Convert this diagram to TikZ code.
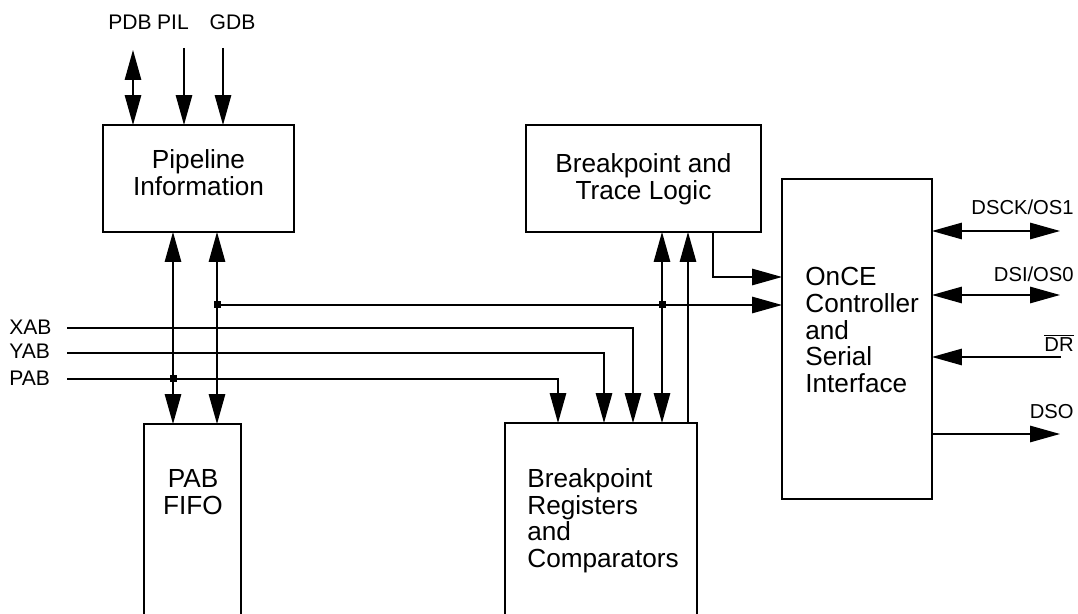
\documentclass[tikz,border=0pt]{standalone}
\usepackage{fontspec}
\setmainfont{Liberation Sans}
\usetikzlibrary{arrows.meta}
\tikzset{
  ln/.style={line width=0.75pt},
  tip/.style={ln,-{Triangle[length=0.6cm,width=0.33cm]}},
  dbl/.style={ln,{Triangle[length=0.6cm,width=0.33cm]}-{Triangle[length=0.6cm,width=0.33cm]}},
  blk/.style={draw,line width=0.75pt,rectangle,outer sep=0pt,inner sep=0pt},
  big/.style={font=\fontsize{14.9}{15.2}\selectfont,inner sep=0pt},
  sml/.style={font=\fontsize{12}{14}\selectfont,inner sep=0pt},
  smr/.style={font=\fontsize{11.5}{14}\selectfont,inner sep=0pt},
  jdot/.style={fill,rectangle,minimum size=0.14cm,inner sep=0pt},
}
\begin{document}
\begin{tikzpicture}[x=0.02cm,y=-0.02cm]
\useasboundingbox (0,0) rectangle (1078,614);
\begin{scope}
\clip (0,0) rectangle (1078,614);
% blocks
\node[blk,minimum width=3.82cm,minimum height=2.14cm] (pipe) at (198.5,178.5) {};
\node[blk,minimum width=4.7cm,minimum height=2.14cm] (trace) at (643.5,178.5) {};
\node[blk,minimum width=3cm,minimum height=6.4cm] (once) at (857,339) {};
\node[blk,minimum width=1.94cm,minimum height=4.72cm] (fifo) at (192.5,542) {};
\node[blk,minimum width=3.84cm,minimum height=4.74cm] (regs) at (601,541.5) {};
% block texts
\node[big,align=center,anchor=north] (tPipe) at (198.5,149) {Pipeline\\Information};
\node[big,align=center,anchor=north] (tTrace) at (643.5,153) {Breakpoint and\\Trace Logic};
\node[big,align=left,anchor=north west] (tOnce) at (805,267) {OnCE\\Controller\\and\\Serial\\Interface};
\node[big,align=left,anchor=north west] (tRegs) at (527,468) {Breakpoint\\Registers\\and\\Comparators};
\node[big,align=center,anchor=north] (tFifo) at (193,469) {PAB\\FIFO};
% helper coordinates
\coordinate (cPDB) at (133,50);
\coordinate (cPIL) at (184,48);
\coordinate (cGDB) at (223,48);
\coordinate (cA) at (173,0);
\coordinate (cB) at (217,0);
\coordinate (cP) at (558,0);
\coordinate (cY) at (604,0);
\coordinate (cX) at (633,0);
\coordinate (cD) at (662,0);
\coordinate (cE) at (688,0);
\coordinate (cT) at (713,0);
\coordinate (rBus) at (0,305);
\coordinate (rT) at (0,277);
\coordinate (sX) at (67,328);
\coordinate (sY) at (67,353);
\coordinate (sP) at (67,379);
\coordinate (eDSCK) at (1060,231);
\coordinate (eDSI) at (1060,295);
\coordinate (eDR) at (1061,357);
\coordinate (eDSO) at (1060,434);
% top inputs
\draw[dbl] (cPDB) -- (cPDB |- pipe.north);
\draw[tip] (cPIL) -- (cPIL |- pipe.north);
\draw[tip] (cGDB) -- (cGDB |- pipe.north);
% pipeline to fifo
\draw[dbl] (cA |- pipe.south) -- (cA |- fifo.north);
\draw[dbl] (cB |- pipe.south) -- (cB |- fifo.north);
% bus to once
\draw[tip] (cB |- rBus) -- (once.west |- rBus);
% address buses
\draw[tip] (sX) -| (cX |- regs.north);
\draw[tip] (sY) -| (cY |- regs.north);
\draw[tip] (sP) -| (cP |- regs.north);
% trace <-> regs
\draw[dbl] (cD |- trace.south) -- (cD |- regs.north);
\draw[tip] (cE |- regs.north) -- (cE |- trace.south);
\draw[tip] (cT |- trace.south) |- (once.west |- rT);
% right side
\draw[dbl] (once.east |- eDSCK) -- (eDSCK);
\draw[dbl] (once.east |- eDSI) -- (eDSI);
\draw[tip] (eDR) -- (once.east |- eDR);
\draw[tip] (once.east |- eDSO) -- (eDSO);
% junctions
\node[jdot] (j1) at (cB |- rBus) {};
\node[jdot] (j2) at (cD |- rBus) {};
\node[jdot] (j3) at (cA |- sP) {};
% labels
\node[sml,anchor=base] (lPDB) at (130,30) {PDB};
\node[sml,anchor=base] (lPIL) at (173,30) {PIL};
\node[sml,anchor=base] (lGDB) at (232.5,30) {GDB};
\node[sml,anchor=base west] (lXAB) at (9,335) {XAB};
\node[sml,anchor=base west] (lYAB) at (9,359) {YAB};
\node[sml,anchor=base west] (lPAB) at (9,386) {PAB};
\node[smr,anchor=base east] (lDSCK) at (1074,215) {DSCK/OS1};
\node[smr,anchor=base east] (lDSI) at (1074,282) {DSI/OS0};
\node[smr,anchor=base east] (lDR) at (1074,352) {$\overline{\mbox{DR}}$};
\node[smr,anchor=base east] (lDSO) at (1074,419) {DSO};
\end{scope}
\end{tikzpicture}
\end{document}
